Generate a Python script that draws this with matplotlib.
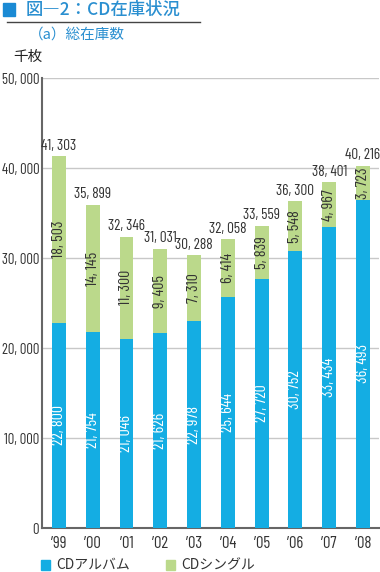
import numpy as np
import matplotlib
matplotlib.use('Agg')
import matplotlib.pyplot as plt
from matplotlib.patches import Rectangle
from matplotlib.lines import Line2D

# data (thousand units)
years = ["'99", "'00", "'01", "'02", "'03", "'04", "'05", "'06", "'07", "'08"]
album = [22800, 21754, 21046, 21626, 22978, 25644, 27720, 30752, 33434, 36493]
single = [18503, 14145, 11300, 9405, 7310, 6414, 5839, 5548, 4967, 3723]
total = [41303, 35899, 32346, 31031, 30288, 32058, 33559, 36300, 38401, 40216]
yticks = [0, 10000, 20000, 30000, 40000, 50000]

BLUE = '#14ade3'
GREEN = '#bbd98b'
TITLE_BLUE = '#2a8fd0'
NUM_FONT = ['Barlow Condensed', 'DejaVu Sans']
JP_FONT = ['Noto Sans CJK JP', 'DejaVu Sans']

def fmt(v):
    return '{:,}'.format(v).replace(',', ', ')

fig = plt.figure(figsize=(3.8, 5.72), dpi=100)
ax = fig.add_axes([0.1105, 0.0769, 0.8865, 0.7867])

x = np.arange(len(years))
w = 0.41
ax.bar(x, album, w, color=BLUE, zorder=3)
ax.bar(x, single, w, bottom=album, color=GREEN, zorder=3)

for i in range(len(years)):
    ax.text(x[i], album[i] / 2, fmt(album[i]), rotation=90, ha='center', va='center',
            color='white', fontsize=11.5, family=NUM_FONT, zorder=4)
    ax.text(x[i], album[i] + single[i] / 2, fmt(single[i]), rotation=90, ha='center',
            va='center', color='#333333', fontsize=11.5, family=NUM_FONT, zorder=4)
    ax.text(x[i], total[i] + 400, fmt(total[i]), ha='center', va='bottom',
            color='#333333', fontsize=11, family=NUM_FONT, zorder=4)

ax.set_xlim(-0.5, 9.47)
ax.set_ylim(0, 50000)
ax.set_yticks(yticks)
ax.set_yticklabels([fmt(v) for v in yticks], family=NUM_FONT, fontsize=10.5, color='#333333')
ax.set_xticks(x)
ax.set_xticklabels(['\u2019' + y[1:] for y in years], family=NUM_FONT, fontsize=12, color='#333333')
ax.tick_params(length=0)
ax.tick_params(axis='y', pad=2)
ax.tick_params(axis='x', pad=6)
ax.yaxis.grid(True, color='#c8c8c8', linewidth=1, zorder=0)
ax.set_axisbelow(True)
for s in ['top', 'right']:
    ax.spines[s].set_visible(False)
ax.spines['left'].set_color('#666666')
ax.spines['left'].set_linewidth(1.5)
ax.spines['bottom'].set_color('#666666')
ax.spines['bottom'].set_linewidth(1.5)

# header
fig.patches.append(Rectangle((3 / 380, 1 - 16 / 572), 12 / 380, 13 / 572,
                             transform=fig.transFigure, color='#1a8ad4', figure=fig))
fig.text(26 / 380, 1 - 10 / 572, '図―2：CD在庫状況', family=JP_FONT, fontsize=12.5,
         color=TITLE_BLUE, va='center', ha='left', weight='medium')
fig.lines.append(Line2D([7 / 380, 200 / 380], [1 - 21.5 / 572, 1 - 21.5 / 572],
                        transform=fig.transFigure, color='#444444', linewidth=1, figure=fig))
fig.text(29 / 380, 1 - 35 / 572, '（a）総在庫数', family=JP_FONT, fontsize=10.5,
         color=TITLE_BLUE, va='center', ha='left')
fig.text(13 / 380, 1 - 57 / 572, '千枚', family=JP_FONT, fontsize=10.5,
         color='#222222', va='center', ha='left')

# legend
for lx, col, lab in [(41, BLUE, 'CDアルバム'), (166, GREEN, 'CDシングル')]:
    fig.patches.append(Rectangle((lx / 380, 1 - 570 / 572), 8.5 / 380, 10.5 / 572,
                                 transform=fig.transFigure, color=col, figure=fig))
    fig.text((lx + 15) / 380, 1 - 565 / 572, lab, family=JP_FONT, fontsize=10,
             color='#333333', va='center', ha='left')

fig.savefig('out.png', dpi=100)
